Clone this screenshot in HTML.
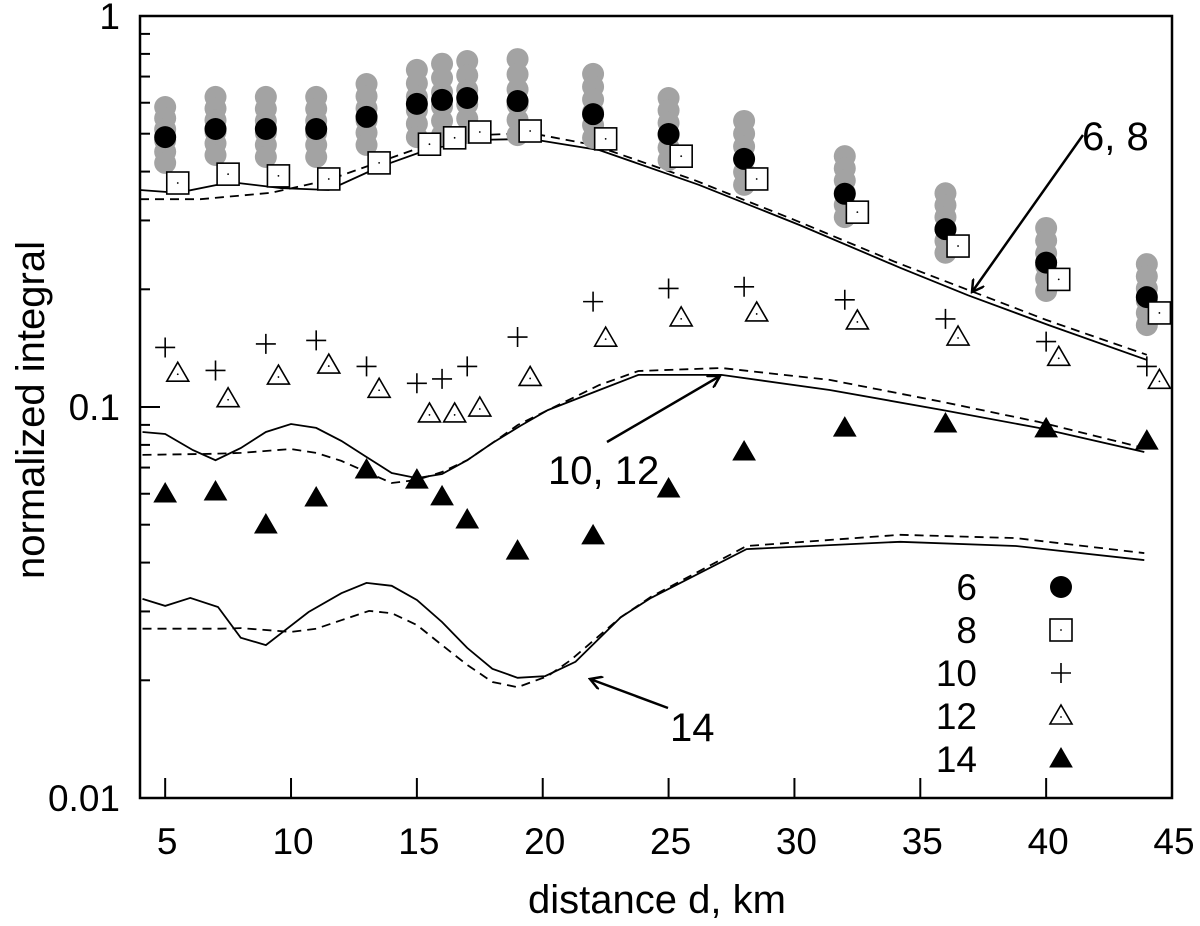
<!DOCTYPE html>
<html><head><meta charset="utf-8"><style>
body{margin:0;background:#fff;}
svg{display:block;font-family:"Liberation Sans",sans-serif;}
</style></head><body>
<svg id="chart" width="1200" height="926" viewBox="0 0 1200 926">
<defs>
<marker id="ah" markerWidth="14" markerHeight="14" refX="12" refY="7" orient="auto" markerUnits="userSpaceOnUse"><path d="M0,0 L12,7 L0,14" fill="none" stroke="#000" stroke-width="2.5"/></marker>
</defs>
<g id="axes"></g>
<g id="curves"></g>
<g id="marks"></g>
<g id="annot"></g>
<g id="legend"></g>
</svg>
<script>
const dist6 = [5,7,9,11,13,15,16,17,19,22,25,28,32,36,40,44];
const val6 = [0.49,0.514,0.514,0.514,0.552,0.596,0.61,0.617,0.606,0.561,0.499,0.431,0.351,0.285,0.234,0.191];
const grayTop = [0.585,0.621,0.621,0.621,0.67,0.728,0.755,0.767,0.776,0.711,0.617,0.539,0.438,0.352,0.287,0.232];
const grayBottom = [0.421,0.441,0.436,0.436,0.468,0.49,0.496,0.502,0.496,0.488,0.428,0.37,0.306,0.248,0.198,0.162];
const dist8 = [5.5,7.5,9.5,11.5,13.5,15.5,16.5,17.5,19.5,22.5,25.5,28.5,32.5,36.5,40.5,44.5];
const val8 = [0.374,0.394,0.39,0.383,0.421,0.47,0.488,0.505,0.508,0.485,0.438,0.383,0.315,0.258,0.212,0.174];
const dist10 = [5,7,9,11,13,15,16,17,19,22,25,28,32,36,40,44];
const val10 = [0.142,0.124,0.145,0.148,0.127,0.115,0.118,0.127,0.151,0.186,0.201,0.203,0.188,0.168,0.147,0.127];
const dist12 = [5.5,7.5,9.5,11.5,13.5,15.5,16.5,17.5,19.5,22.5,25.5,28.5,32.5,36.5,40.5,44.5];
const val12 = [0.122,0.105,0.12,0.128,0.111,0.096,0.096,0.0994,0.119,0.15,0.169,0.174,0.166,0.151,0.134,0.117];
const dist14 = [5,7,9,11,13,15,16,17,19,22,25,28,32,36,40,44];
const val14 = [0.0599,0.0606,0.0499,0.0585,0.069,0.065,0.0589,0.0514,0.0428,0.0468,0.0617,0.0767,0.0883,0.0905,0.0879,0.0818];

const upSolidX = [4,5,5.5,7.6,9.6,11.5,13.5,15.5,17.5,19.5,22.25,26.2,30.2,34.2,36.9,40.1,44];
const upSolidY = [0.359,0.355,0.353,0.376,0.363,0.359,0.411,0.457,0.482,0.485,0.454,0.37,0.292,0.227,0.193,0.162,0.132];
const upDashX = [4,6.4,9.2,11.5,13.5,15.5,17.5,19.5,22,26,30,34,40,44];
const upDashY = [0.34,0.34,0.353,0.381,0.423,0.47,0.496,0.502,0.468,0.381,0.301,0.235,0.167,0.136];
const midSolidX = [4.1,5,6.1,7,8,9,10,11,12,13,14,15,16,17,18,19.1,20.2,22.25,23.8,27.1,31.4,35.9,39.7,43.9];
const midSolidY = [0.0863,0.0853,0.0776,0.0731,0.0785,0.0863,0.0905,0.0884,0.0819,0.0745,0.0678,0.0658,0.0674,0.0731,0.0809,0.0894,0.0982,0.1105,0.1208,0.1208,0.1105,0.0982,0.0884,0.0767];
const midDashX = [4.1,6.9,8,10,11,12,13,14,15,16,17,18,19,20.2,22.25,23.8,27.1,31.4,35.9,39.7,43.9];
const midDashY = [0.0754,0.0759,0.0763,0.0781,0.0763,0.0728,0.0682,0.0639,0.0651,0.0682,0.0731,0.0809,0.0899,0.0982,0.1138,0.1236,0.1258,0.1173,0.103,0.0916,0.0785];
const lowSolidX = [4.1,5,6,7.1,8,9,10.7,12,13,14,15,16,17,18,19,20.1,21.3,23.1,24.3,28.1,34.2,38.8,43.9];
const lowSolidY = [0.0323,0.031,0.0325,0.0308,0.0257,0.0246,0.0299,0.0334,0.0355,0.0349,0.0321,0.0282,0.0242,0.0214,0.0203,0.0205,0.0223,0.029,0.0325,0.0433,0.0452,0.0441,0.0406];
const lowDashX = [4.1,7.2,8,10,11,12,13.1,14,15,16,17,18,19,20.2,21.1,23.1,24.3,28.1,34.2,38.8,43.9];
const lowDashY = [0.0271,0.0271,0.0272,0.0266,0.0271,0.0285,0.0301,0.0297,0.0277,0.0246,0.0219,0.0198,0.0192,0.0205,0.0225,0.029,0.0327,0.0441,0.0471,0.0462,0.0423];

const xTicks = [5,10,15,20,25,30,35,40,45];
const yMajor = [1,0.1,0.01];
const yMajorLabels = ["1","0.1","0.01"];

const L=140,R=1172,T=16,B=798,X0=4,X1=45;
const sx = x => L + (x-X0)/(X1-X0)*(R-L);
const sy = v => T + (-Math.log10(v))/2*(B-T);
const NS="http://www.w3.org/2000/svg";
function mk(tag,attrs,parent,text){const e=document.createElementNS(NS,tag);for(const k in attrs)e.setAttribute(k,attrs[k]);if(text!==undefined)e.textContent=text;parent.appendChild(e);return e;}
const axes=document.getElementById('axes'),curves=document.getElementById('curves'),marks=document.getElementById('marks'),annot=document.getElementById('annot'),legend=document.getElementById('legend');

let f=mk('rect',{x:L,y:T,width:R-L,height:B-T,fill:"none",stroke:"#000","stroke-width":2.5},axes);


xTicks.forEach(t=>{
  let l=mk('line',{x1:sx(t),x2:sx(t),y1:B,y2:B-20,stroke:"#000","stroke-width":2},axes);
  
  
  let tx=mk('text',{x:sx(t)+2,y:B+56,"font-size":37,"text-anchor":"middle"},axes,String(t));
  
  
});
yMajor.forEach((v,i)=>{
  let l=mk('line',{x1:L,x2:L+20,y1:sy(v),y2:sy(v),stroke:"#000","stroke-width":2},axes);
  
  
  let tx=mk('text',{x:L-20,y:sy(v)+13,"font-size":37,"text-anchor":"end"},axes,yMajorLabels[i]);
  
  
  if(i<2){for(let m=2;m<=9;m++){let mv=v/10*m;
    let ml=mk('line',{x1:L,x2:L+10,y1:sy(mv),y2:sy(mv),stroke:"#000","stroke-width":2},axes);
    
    }}
});
let xt=mk('text',{x:657,y:913,"font-size":40,"text-anchor":"middle"},axes,"distance d, km");


let yt=mk('text',{x:0,y:0,"font-size":40,"text-anchor":"middle",transform:"translate(44,410) rotate(-90)"},axes,"normalized integral");



function line(xs,ys,dash,name){
  const d=xs.map((x,i)=>(i?'L':'M')+sx(x).toFixed(1)+','+sy(ys[i]).toFixed(1)).join(' ');
  const p=mk('path',{d:d,fill:"none",stroke:"#000","stroke-width":1.8},curves);
  if(dash)p.setAttribute('stroke-dasharray','9,6');
  
  
}
line(upSolidX,upSolidY,false,'curve-6-8-solid');
line(upDashX,upDashY,true,'curve-6-8-dashed');
line(midSolidX,midSolidY,false,'curve-10-12-solid');
line(midDashX,midDashY,true,'curve-10-12-dashed');
line(lowSolidX,lowSolidY,false,'curve-14-solid');
line(lowDashX,lowDashY,true,'curve-14-dashed');

function circle(cx,cy,fill,g){return mk('circle',{cx:cx,cy:cy,r:11,fill:fill},g);}
function square(cx,cy,g){const gg=mk('g',{},g);mk('rect',{x:cx-11,y:cy-11,width:22,height:22,fill:"#fff",stroke:"#000","stroke-width":1.6},gg);mk('circle',{cx:cx,cy:cy,r:0.9,fill:"#000"},gg);return gg;}
function plus(cx,cy,g){return mk('path',{d:`M${cx-10},${cy}H${cx+10}M${cx},${cy-10}V${cy+10}`,stroke:"#000","stroke-width":1.6,fill:"none"},g);}
function tri(cx,cy,filled,g){const gg=mk('g',{},g);mk('path',{d:`M${cx},${cy-11}L${cx+11},${cy+8}L${cx-11},${cy+8}Z`,fill:filled?"#000":"#fff",stroke:"#000","stroke-width":filled?1:1.6},gg);if(!filled)mk('circle',{cx:cx,cy:cy+1,r:0.9,fill:"#000"},gg);return gg;}

dist6.forEach((x,i)=>{
  const t=Math.log10(grayTop[i]),b=Math.log10(grayBottom[i]);
  for(let k=0;k<6;k++){const v=Math.pow(10,t+(b-t)*k/5);
    const c=circle(sx(x),sy(v),"#a3a3a3",marks);
    
    }
});
dist6.forEach((x,i)=>{const c=circle(sx(x),sy(val6[i]),"#000",marks);
  
  });
dist8.forEach((x,i)=>{const c=square(sx(x),sy(val8[i]),marks);
  
  });
dist10.forEach((x,i)=>{const c=plus(sx(x),sy(val10[i]),marks);
  
  });
dist12.forEach((x,i)=>{const c=tri(sx(x),sy(val12[i]),false,marks);
  
  });
dist14.forEach((x,i)=>{const c=tri(sx(x),sy(val14[i]),true,marks);
  
  });

function arrow(x1,y1,x2,y2,label,lx,ly,name){
  const a=mk('line',{x1:x1,y1:y1,x2:x2,y2:y2,stroke:"#000","stroke-width":2.5,"marker-end":"url(#ah)"},annot);
  
  
  const t=mk('text',{x:lx,y:ly,"font-size":40},annot,label);
  
  
}
arrow(1083,135,972,292,"6, 8",1082,150,'annotation-6-8');
arrow(607,442,720,376,"10, 12",548,484,'annotation-10-12');
arrow(668,708,590,679,"14",670,741,'annotation-14');

const legLabels=["6","8","10","12","14"];
legLabels.forEach((lab,i)=>{
  const y=587+i*43;
  const t=mk('text',{x:977,y:y+13,"font-size":37,"text-anchor":"end"},legend,lab);
  
  
  let m;
  if(i==0)m=circle(1061,y,"#000",legend);
  else if(i==1)m=square(1061,y,legend);
  else if(i==2)m=plus(1061,y,legend);
  else if(i==3)m=tri(1061,y,false,legend);
  else m=tri(1061,y,true,legend);
  
  
});
</script>
</body></html>
